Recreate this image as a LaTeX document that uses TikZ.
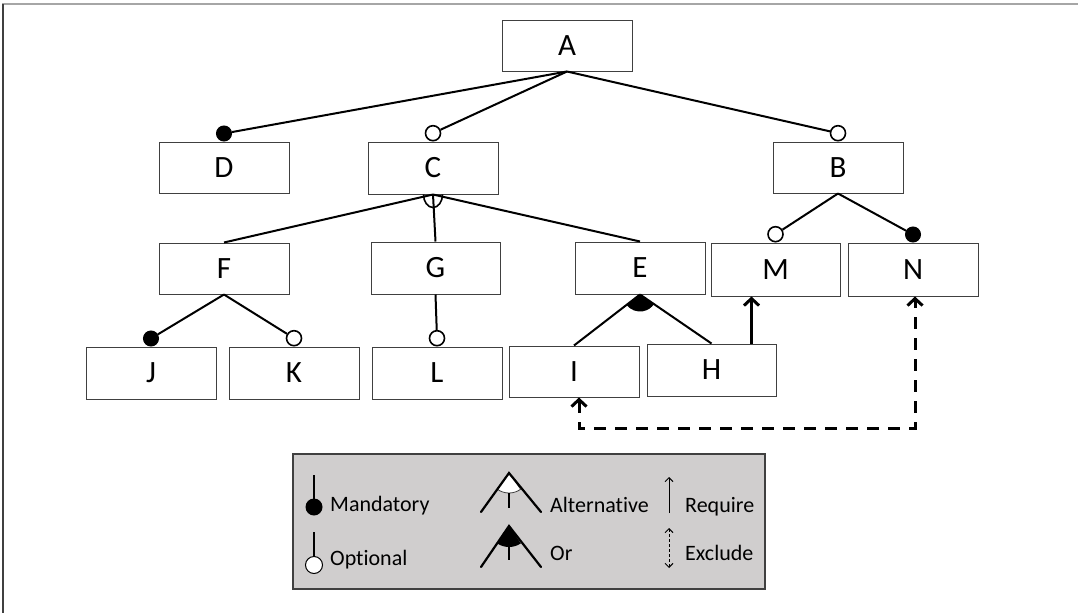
\documentclass[tikz,border=0pt]{standalone}
\usepackage{fontspec}
\setmainfont{Carlito}[Ligatures={NoCommon}]
\usetikzlibrary{arrows.meta,calc}
\definecolor{legendgray}{HTML}{D0CECE}
\definecolor{boxline}{HTML}{404040}
\definecolor{frametop}{HTML}{A6A6A6}
\begin{document}
\begin{tikzpicture}[x=1pt,y=1pt,
  feature/.style={draw=boxline,line width=1pt,fill=white,minimum width=130pt,
    minimum height=51pt,inner sep=0pt,font=\fontsize{31}{31}\selectfont},
  link/.style={line width=2pt,black},
  mand/.style={circle,fill=black,draw=black,line width=1pt,minimum size=15pt,inner sep=0pt},
  opt/.style={circle,fill=white,draw=black,line width=1.6pt,minimum size=15pt,inner sep=0pt},
  reqarrow/.style={line width=3pt,-{Straight Barb[length=7pt,width=15pt]}},
  exclarrow/.style={line width=3pt,dash pattern=on 12pt off 9pt,
    {Straight Barb[length=7pt,width=15pt]}-{Straight Barb[length=7pt,width=15pt]}},
  legendtext/.style={anchor=base west,inner sep=0pt,font=\fontsize{22}{22}\selectfont},
  legendleg/.style={line width=2.2pt,line cap=round}]

% canvas and frame
\useasboundingbox (0,0) rectangle (1078,-613);
\draw[frametop,line width=1.3pt] (2,-4) -- (1078,-4);
\draw[boxline,line width=1.3pt] (3,-4) -- (3,-613);

% feature boxes
\node[feature] (A) at (567,-45.5) {A};
\node[feature] (D) at (224,-167.5) {D};
\node[feature,minimum height=52pt] (C) at (433,-168) {C};
\node[feature] (B) at (838,-167.5) {B};
\node[feature] (F) at (224,-268.5) {F};
\node[feature,minimum width=129pt,minimum height=52pt] (G) at (435.5,-268) {G};
\node[feature,minimum height=52pt] (E) at (640,-268) {E};
\node[feature,minimum width=129pt,minimum height=53pt] (M) at (775.5,-269.5) {M};
\node[feature,minimum height=53pt] (N) at (913,-269.5) {N};
\node[feature,minimum height=52pt] (J) at (151,-373) {J};
\node[feature,minimum height=52pt] (K) at (294,-373) {K};
\node[feature,minimum height=52pt] (L) at (437,-373) {L};
\node[feature] (I) at (574,-371.5) {I};
\node[feature,minimum width=129pt,minimum height=52pt] (H) at (711.5,-370) {H};

% mandatory / optional markers on the children
\node[mand,anchor=south] (mD) at (D.north) {};
\node[opt,anchor=south]  (oC) at (C.north) {};
\node[opt,anchor=south]  (oB) at (B.north) {};
\node[opt,anchor=south]  (oM) at (M.north) {};
\node[mand,anchor=south] (mN) at (N.north) {};
\node[mand,anchor=south] (mJ) at (J.north) {};
\node[opt,anchor=south]  (oK) at (K.north) {};
\node[opt,anchor=south]  (oL) at (L.north) {};

% tree links
\draw[link] (A.south) -- (mD);
\draw[link] (A.south) -- (oC);
\draw[link] (A.south) -- (oB);
\draw[link] (B.south) -- (oM);
\draw[link] (B.south) -- (mN);
\draw[link] (F.south) -- (mJ);
\draw[link] (F.south) -- (oK);
\draw[link] (G.south) -- (oL);

% alternative group under C
\draw[link] (C.south) -- (F.north);
\draw[link] (C.south) -- (G.north);
\draw[link] (C.south) -- (E.north);
\draw[line width=1.6pt] ($(C.south)+(-9.5,0)$) arc[start angle=180,end angle=360,x radius=9.5,y radius=13];

% or group under E
\draw[link] (E.south) -- (I.north);
\draw[link] (E.south) -- (H.north);
\fill (E.south) -- ++(219:17) arc[start angle=219,end angle=326,radius=17] -- cycle;

% cross-tree constraints
\coordinate (hq) at ($(H.north east)+(-25,0)$);
\draw[reqarrow] (hq) -- (hq |- M.south);
\coordinate (ix) at ($(I.south)+(5,0)$);
\coordinate (nx) at ($(N.south)+(2,0)$);
\draw[exclarrow] (ix) -- (ix |- 0,-428) -| (nx);

% legend
\node[draw=boxline,line width=1.5pt,fill=legendgray,minimum width=472pt,
  minimum height=135pt,inner sep=0pt] (legend) at (529,-521.5) {};

\draw[line width=2pt] (314,-475) -- (314,-500);
\fill (314,-507) circle (8.5);
\node[legendtext] (tMand) at (330,-511.5) {Mandatory};

\draw[line width=2pt] (314,-532) -- (314,-557);
\draw[fill=white,line width=1pt] (314,-565) circle (8.5);
\node[legendtext] (tOpt) at (330,-565) {Optional};

\filldraw[fill=white,draw=boxline,line width=0.8pt] (509,-473) -- ++(234.3:20)
  arc[start angle=234.3,end angle=305.7,radius=20] -- cycle;
\draw[legendleg] (481,-512) -- (509,-473) -- (541,-512);
\draw[line width=2pt] (509,-493) -- (509,-508);
\node[legendtext] (tAlt) at (550,-512) {Alternative};

\fill (509,-526) -- ++(235.7:21) arc[start angle=235.7,end angle=304.3,radius=21] -- cycle;
\draw[legendleg] (481,-567) -- (509,-526) -- (541,-567);
\draw[line width=2pt] (509,-546) -- (509,-560);
\node[legendtext] (tOr) at (550,-560) {Or};

\draw[line width=1pt,-{Straight Barb[length=4pt,width=8pt]}] (669,-513) -- (669,-477);
\node[legendtext] (tReq) at (685,-512) {Require};
\draw[line width=1pt,dash pattern=on 3pt off 2pt,
  {Straight Barb[length=4pt,width=8pt]}-{Straight Barb[length=4pt,width=8pt]}] (669,-528) -- (669,-568);
\node[legendtext] (tExc) at (685,-560) {Exclude};

\end{tikzpicture}
\end{document}
